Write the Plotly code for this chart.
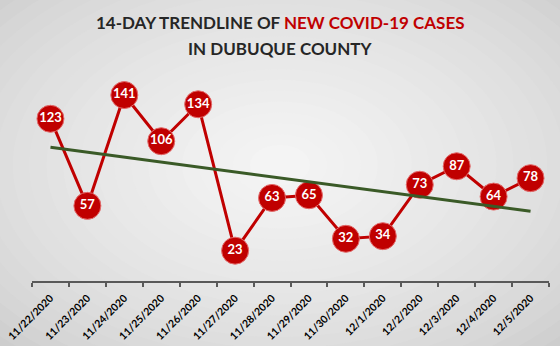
import numpy as np
import plotly.graph_objects as go

dates = ["11/22/2020", "11/23/2020", "11/24/2020", "11/25/2020", "11/26/2020",
         "11/27/2020", "11/28/2020", "11/29/2020", "11/30/2020", "12/1/2020",
         "12/2/2020", "12/3/2020", "12/4/2020", "12/5/2020"]
cases = [123, 57, 141, 106, 134, 23, 63, 65, 32, 34, 73, 87, 64, 78]

title_line1_black = "14-DAY TRENDLINE OF "
title_line1_red = "NEW COVID-19 CASES"
title_line2 = "IN DUBUQUE COUNTY"

W, H = 560, 346
ML, MR, MT, MB = 32, 11, 70, 65
PW = W - ML - MR
PH = H - MT - MB

def px(xp):
    return (xp - ML) / PW

def py(yp):
    return (H - MB - yp) / PH

# trendline (linear least squares)
idx = np.arange(len(cases))
slope, intercept = np.polyfit(idx, cases, 1)
trend_y = [intercept, intercept + slope * (len(cases) - 1)]
trend_x = [dates[0], dates[-1]]

fig = go.Figure()

fig.add_trace(go.Scatter(
    x=dates, y=cases, mode="lines+markers+text",
    text=[str(v) for v in cases], textposition="middle center",
    textfont=dict(family="Lato", size=13, color="white", weight="bold"),
    line=dict(color="#C00000", width=3),
    marker=dict(size=27, color="#C00000", line=dict(color="#E36B6B", width=1)),
    cliponaxis=False, showlegend=False, hoverinfo="skip"))

fig.add_trace(go.Scatter(
    x=trend_x, y=trend_y, mode="lines",
    line=dict(color="#3A5A27", width=3),
    showlegend=False, hoverinfo="skip"))

# radial gradient background
shapes = []
N = 24
cx, cy = 280, 165
c_out = np.array([0xC6, 0xC6, 0xC6])
c_in = np.array([0xF4, 0xF4, 0xF4])
for i in range(N):
    t = i / (N - 1)
    rx = 420 * (1 - t) + 30 * t
    ry = 270 * (1 - t) + 20 * t
    col = c_out + (c_in - c_out) * (t ** 0.6)
    shapes.append(dict(
        type="circle", xref="paper", yref="paper", layer="below",
        x0=px(cx - rx), x1=px(cx + rx), y0=py(cy + ry), y1=py(cy - ry),
        fillcolor="rgb(%d,%d,%d)" % tuple(col.astype(int)), line=dict(width=0)))

fig.update_layout(
    width=W, height=H,
    margin=dict(l=ML, r=MR, t=MT, b=MB, autoexpand=False),
    paper_bgcolor="#C6C6C6", plot_bgcolor="rgba(0,0,0,0)",
    shapes=shapes,
    font=dict(family="Lato"),
    annotations=[
        dict(text=title_line1_black + "<span style='color:#C00000'>" + title_line1_red + "</span>",
             xref="paper", yref="paper", x=px(280), y=py(22), xanchor="center", yanchor="middle",
             showarrow=False, font=dict(family="Lato", size=17, color="#262626", weight="bold")),
        dict(text=title_line2,
             xref="paper", yref="paper", x=px(280), y=py(48), xanchor="center", yanchor="middle",
             showarrow=False, font=dict(family="Lato", size=17, color="#262626", weight="bold")),
    ],
    xaxis=dict(
        type="category", categoryorder="array", categoryarray=dates,
        range=[-0.5, len(dates) - 0.5], tickson="boundaries", automargin=False,
        showgrid=False, zeroline=False, showline=True, linecolor="#595959", linewidth=2,
        ticks="outside", ticklen=4, tickcolor="#595959", tickwidth=1.5,
        ticklabelstandoff=5,
        tickangle=-45, tickfont=dict(family="Lato", size=10.5, color="black", weight="bold"),
        fixedrange=True),
    yaxis=dict(
        range=[0, 160], visible=False, showgrid=False, zeroline=False, fixedrange=True,
        automargin=False),
)

fig.write_html("out.html")
